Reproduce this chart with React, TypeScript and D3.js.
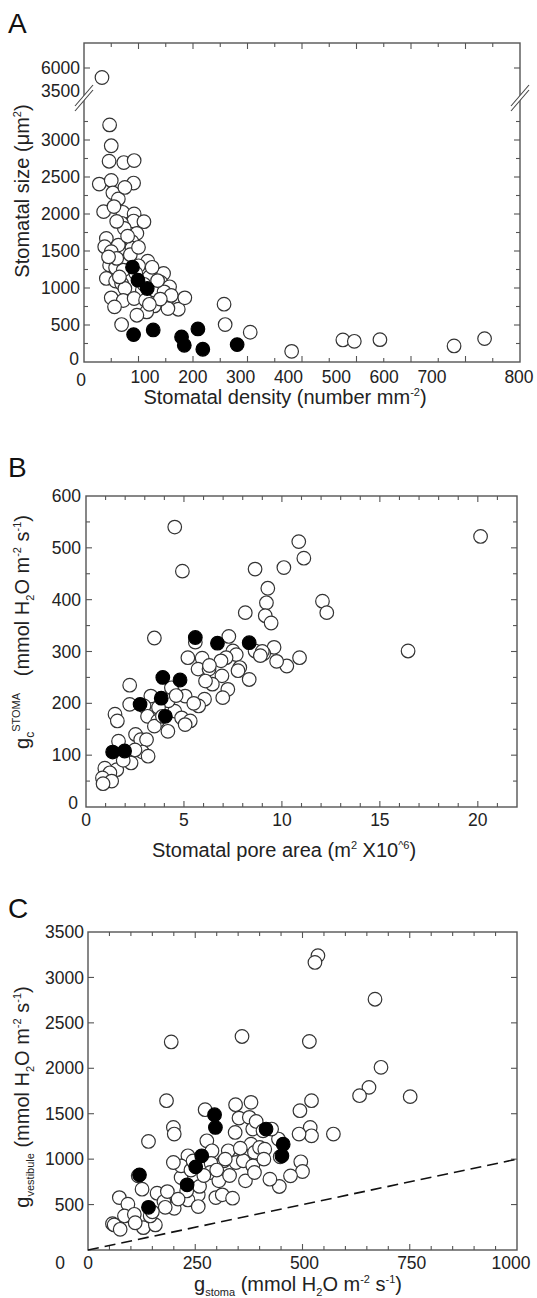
import React from "react";
import * as d3 from "d3";

const FONT = "'Liberation Sans', Arial, Helvetica, sans-serif";

// ---------- Panel A: stomatal density vs stomatal size ----------
const aOpen: [number, number][] = [
  [33, 5050], [47, 3204], [50, 2922], [46, 2713], [73, 2695], [92, 2722], [28, 2404], [50, 2454],
  [91, 2418], [53, 2286], [63, 2204], [75, 2359], [36, 2032], [71, 2023], [92, 2000], [91, 1905],
  [110, 1896], [69, 1874], [74, 1806], [97, 1738], [41, 1670], [38, 1558], [63, 1580], [88, 1625],
  [50, 1490], [88, 1540], [80, 1390], [117, 1363], [47, 1309], [58, 1273], [72, 1242], [129, 1210],
  [146, 1196], [41, 1129], [58, 1093], [69, 1061], [100, 1129], [141, 1075], [157, 1016], [129, 971],
  [147, 948], [75, 993], [107, 971], [50, 867], [72, 831], [92, 858], [113, 835], [151, 822],
  [173, 713], [185, 867], [56, 745], [129, 758], [115, 677], [97, 632], [154, 722], [69, 506],
  [60, 1400], [85, 1450], [100, 1300], [120, 1150], [135, 1100], [95, 1200], [65, 1150], [110, 1050],
  [45, 1420], [160, 900], [140, 850], [120, 780], [80, 1700], [60, 1900], [55, 2100], [100, 1550],
  [125, 1280],
  [257, 781], [259, 506], [305, 402], [381, 144], [475, 298], [496, 280], [543, 302], [679, 217], [735, 316],
];
const aFilled: [number, number][] = [
  [89, 1282], [99, 1106], [116, 993], [91, 370], [127, 433], [179, 339], [184, 226], [209, 447], [218, 172], [281, 235],
];
const aXLabels = [0, 100, 200, 300, 400, 500, 600, 700, 800];
const aYLabelsLow = [500, 1000, 1500, 2000, 2500, 3000];
const aYLabelsHigh = [3500, 6000];

// ---------- Panel B: stomatal pore area vs gc STOMA ----------
const bOpen: [number, number][] = [
  [4.53, 540], [4.92, 455], [8.63, 459], [10.1, 462], [10.86, 512], [11.12, 480], [9.28, 422], [9.21, 394],
  [8.13, 375], [9.15, 369], [9.45, 355], [12.07, 397], [12.29, 375], [20.14, 522],
  [3.49, 326], [5.58, 318], [7.29, 329], [16.44, 301], [10.9, 288], [10.25, 272], [9.73, 281], [9.6, 308],
  [9.07, 296], [8.63, 301], [7.5, 301], [7.67, 294], [7.15, 288], [6.89, 282], [5.93, 287], [5.2, 288],
  [5.72, 266], [6.28, 266], [7.85, 269], [7.76, 263], [6.94, 253], [8.33, 246], [6.45, 237], [6.1, 243],
  [7.24, 227], [6.98, 211], [6.05, 208], [5.75, 195], [5.06, 214], [4.45, 221], [4.36, 230], [3.31, 214],
  [2.23, 235], [2.23, 198], [2.96, 195], [3.14, 175], [3.66, 166], [4.53, 185], [4.88, 172], [5.32, 166],
  [5.06, 159], [3.49, 156], [4.18, 146], [1.48, 179], [1.6, 166], [2.53, 140], [2.79, 130], [3.09, 130],
  [1.66, 127], [2.88, 106], [3.17, 98], [2.09, 95], [2.3, 85], [1.57, 72], [0.96, 75], [1.22, 66],
  [0.84, 56], [1.31, 50], [0.87, 45], [9.0, 300], [8.9, 292], [4.2, 205], [3.7, 192], [5.5, 200],
  [6.3, 273], [4.6, 215], [3.9, 175], [2.5, 110], [1.9, 90],
];
const bFilled: [number, number][] = [
  [5.58, 327], [6.71, 316], [8.33, 317], [3.92, 250], [4.8, 245], [2.76, 198], [3.84, 210], [4.05, 175], [1.36, 106], [1.97, 108],
];
const bXLabels = [0, 5, 10, 15, 20];
const bYLabels = [100, 200, 300, 400, 500, 600];

// ---------- Panel C: g stoma vs g vestibule ----------
const cOpen: [number, number][] = [
  [536, 3240], [529, 3165], [669, 2760], [194, 2290], [359, 2350], [516, 2295],
  [683, 2011], [655, 1790], [633, 1698], [751, 1688], [521, 1643], [494, 1533], [518, 1349], [521, 1257],
  [492, 1276], [572, 1276], [496, 971], [500, 864], [472, 816], [446, 699], [444, 1221], [448, 1026],
  [183, 1643], [199, 1349], [201, 1276], [141, 1195], [117, 816], [126, 669], [73, 577], [93, 504],
  [57, 290], [61, 276], [75, 228], [85, 375], [108, 393], [129, 246], [157, 276], [145, 375],
  [161, 625], [177, 533], [185, 643], [201, 459], [217, 798], [233, 1037], [217, 926], [199, 963],
  [277, 1202], [273, 1544], [289, 1092], [257, 607], [233, 551], [257, 478], [287, 952], [285, 853],
  [305, 761], [298, 577], [313, 607], [317, 982], [337, 570], [327, 1092], [344, 1599], [352, 1452],
  [343, 1294], [345, 963], [362, 982], [367, 761], [380, 1625], [376, 1460], [384, 1331], [380, 1165],
  [392, 1415], [388, 1074], [384, 926], [388, 853], [408, 1312], [400, 1129], [412, 1110], [424, 779],
  [428, 1331], [240, 880], [260, 700], [270, 820], [300, 880], [320, 1000], [230, 650], [210, 560],
  [180, 470], [150, 420], [110, 300], [245, 980], [355, 1120], [330, 820], [410, 1000],
];
const cFilled: [number, number][] = [
  [295, 1489], [297, 1349], [415, 1331], [455, 1165], [452, 1037], [265, 1037], [251, 915], [231, 717], [120, 827], [141, 470],
];
const cXLabels = [0, 250, 500, 750, 1000];
const cYLabels = [500, 1000, 1500, 2000, 2500, 3000, 3500];
const cDiagonal: [number, number][] = [[0, 0], [1000, 1000]];

const R = 6.8;
const TICK_FS = 17.5;
const TITLE_FS = 20;
const FRAME = "#555";

type Tick = { p: number; major: boolean };

function FrameBox({ l, r, t, b, xs, ys }: { l: number; r: number; t: number; b: number; xs: Tick[]; ys: Tick[] }) {
  return (
    <g stroke={FRAME} strokeWidth={1.1} fill="none">
      {xs.map((k, i) => {
        const len = k.major ? 6 : 4;
        return (
          <g key={"x" + i}>
            <line x1={k.p} x2={k.p} y1={b} y2={b - len} />
            <line x1={k.p} x2={k.p} y1={t} y2={t + len} />
          </g>
        );
      })}
      {ys.map((k, i) => {
        const len = k.major ? 6 : 4;
        return (
          <g key={"y" + i}>
            <line x1={l} x2={l + len} y1={k.p} y2={k.p} />
            <line x1={r} x2={r - len} y1={k.p} y2={k.p} />
          </g>
        );
      })}
      <rect x={l} y={t} width={r - l} height={b - t} strokeWidth={1.4} />
    </g>
  );
}

function Dots({ data, x, y, filled }: { data: [number, number][]; x: (v: number) => number; y: (v: number) => number; filled: boolean }) {
  return (
    <g>
      {data.map((d, i) => (
        <circle key={i} cx={x(d[0])} cy={y(d[1])} r={R} fill={filled ? "#000" : "#fff"} stroke={filled ? "#000" : "#333"} strokeWidth={1.2} />
      ))}
    </g>
  );
}

export default function App() {
  // ---- Panel A geometry
  const aL = 84, aR = 520, aT = 43, aB = 362;
  const xA = d3.scaleLinear().domain([0, 800]).range([aL, aR]);
  const xALabel = d3.scaleLinear().domain([0, 100, 700, 800]).range([81, 145, 432, 519]);
  const yALow = d3.scaleLinear().domain([0, 3000]).range([aB, 140]);
  const yAHigh = d3.scaleLinear().domain([3500, 6000]).range([93, 68]);
  const yA = (v: number) => (v >= 3500 ? yAHigh(v) : yALow(v));
  const aXTicks: Tick[] = d3.range(50, 800, 50).map((v) => ({ p: xA(v), major: v % 100 === 0 }));
  const aYTicks: Tick[] = d3.range(250, 3500, 250).map((v) => ({ p: yALow(v), major: v % 500 === 0 })).concat([{ p: yAHigh(6000), major: true }]);

  // ---- Panel B geometry
  const bL = 86, bR = 517, bT = 496, bB = 807;
  const xB = d3.scaleLinear().domain([0, 22]).range([bL, bR]);
  const yB = d3.scaleLinear().domain([0, 600]).range([bB, bT]);
  const bXTicks: Tick[] = d3.range(1, 22, 1).map((v) => ({ p: xB(v), major: v % 5 === 0 }));
  const bYTicks: Tick[] = d3.range(50, 600, 50).map((v) => ({ p: yB(v), major: v % 100 === 0 }));

  // ---- Panel C geometry
  const cL = 88, cR = 517, cT = 932, cB = 1250;
  const xC = d3.scaleLinear().domain([0, 1000]).range([cL, cR]);
  const yC = d3.scaleLinear().domain([0, 3500]).range([cB, cT]);
  const cXTicks: Tick[] = d3.range(50, 1000, 50).map((v) => ({ p: xC(v), major: v % 250 === 0 }));
  const cYTicks: Tick[] = d3.range(500, 3500, 500).map((v) => ({ p: yC(v), major: true }));
  const diag = d3.line<[number, number]>().x((d) => xC(d[0])).y((d) => yC(d[1]))(cDiagonal) || "";

  const tickText = { fontFamily: FONT, fontSize: TICK_FS, fill: "#222" } as const;
  const titleText = { fontFamily: FONT, fontSize: TITLE_FS, fill: "#222" } as const;

  const by = yAHigh(3500);
  const brk = (cx: number) => (
    <g>
      <polygon points={`${cx - 9},${by + 13} ${cx + 9},${by - 8} ${cx + 9},${by - 3} ${cx - 9},${by + 18}`} fill="#fff" stroke="none" />
      <line x1={cx - 9} y1={by + 13} x2={cx + 9} y2={by - 8} stroke="#444" strokeWidth={1.1} />
      <line x1={cx - 9} y1={by + 18} x2={cx + 9} y2={by - 3} stroke="#444" strokeWidth={1.1} />
    </g>
  );

  return (
    <svg width={537} height={1298} style={{ display: "block", position: "absolute", left: 0, top: 0, background: "#fff" }}>
      <rect x={0} y={0} width={537} height={1298} fill="#fff" />

      {/* ================= Panel A ================= */}
      <text x={8} y={33} fontFamily={FONT} fontSize={28} fill="#111">A</text>
      <FrameBox l={aL} r={aR} t={aT} b={aB} xs={aXTicks} ys={aYTicks} />
      {brk(aL)}
      {brk(aR)}
      <Dots data={aOpen} x={xA} y={yA} filled={false} />
      <Dots data={aFilled} x={xA} y={yA} filled />
      {aXLabels.map((v) => (
        <text key={v} x={xALabel(v)} y={v === 0 ? 386 : 383} textAnchor="middle" {...tickText}>{v}</text>
      ))}
      <text x={aL - 5} y={aB + 3} textAnchor="end" {...tickText}>0</text>
      {aYLabelsLow.map((v) => (
        <text key={v} x={aL - 4} y={yALow(v)} dy="0.35em" textAnchor="end" {...tickText}>{v}</text>
      ))}
      {aYLabelsHigh.map((v) => (
        <text key={v} x={aL - 4} y={v === 3500 ? 91 : yAHigh(v)} dy="0.35em" textAnchor="end" {...tickText}>{v}</text>
      ))}
      <text x={285} y={404} textAnchor="middle" {...titleText}>
        Stomatal density (number mm<tspan dy={-8} fontSize={11}>-2</tspan><tspan dy={8}>)</tspan>
      </text>
      <text transform="translate(29,191) rotate(-90)" textAnchor="middle" {...titleText}>
        Stomatal size (μm<tspan dy={-8} fontSize={11}>2</tspan><tspan dy={8}>)</tspan>
      </text>

      {/* ================= Panel B ================= */}
      <text x={8} y={477} fontFamily={FONT} fontSize={28} fill="#111">B</text>
      <FrameBox l={bL} r={bR} t={bT} b={bB} xs={bXTicks} ys={bYTicks} />
      <Dots data={bOpen} x={xB} y={yB} filled={false} />
      <Dots data={bFilled} x={xB} y={yB} filled />
      {bXLabels.map((v) => (
        <text key={v} x={xB(v)} y={826} textAnchor="middle" {...tickText}>{v}</text>
      ))}
      <text x={bL - 8} y={bB + 2} textAnchor="end" {...tickText}>0</text>
      {bYLabels.map((v) => (
        <text key={v} x={bL - 5} y={yB(v)} dy="0.35em" textAnchor="end" {...tickText}>{v}</text>
      ))}
      <text x={284} y={857} textAnchor="middle" {...titleText}>
        Stomatal pore area (m<tspan dy={-8} fontSize={11}>2</tspan><tspan dy={8}> X10</tspan><tspan dy={-8} fontSize={11}>^6</tspan><tspan dy={8}>)</tspan>
      </text>
      <text transform="translate(29,632) rotate(-90)" textAnchor="middle" {...titleText}>
        g<tspan dy={5} fontSize={12}>c</tspan><tspan dy={-14} fontSize={11}>STOMA</tspan><tspan dy={9} xmlSpace="preserve">{"   (mmol H"}</tspan><tspan dy={5} fontSize={11}>2</tspan><tspan dy={-5}>O m</tspan><tspan dy={-8} fontSize={11}>-2</tspan><tspan dy={8}> s</tspan><tspan dy={-8} fontSize={11}>-1</tspan><tspan dy={8}>)</tspan>
      </text>

      {/* ================= Panel C ================= */}
      <text x={8} y={918} fontFamily={FONT} fontSize={28} fill="#111">C</text>
      <FrameBox l={cL} r={cR} t={cT} b={cB} xs={cXTicks} ys={cYTicks} />
      <path d={diag} fill="none" stroke="#111" strokeWidth={1.6} strokeDasharray="11,6" />
      <Dots data={cOpen} x={xC} y={yC} filled={false} />
      <Dots data={cFilled} x={xC} y={yC} filled />
      {cXLabels.map((v) => (
        <text key={v} x={xC(v) + (v === 0 ? 0 : v === 1000 ? -6 : 2)} y={1269} textAnchor="middle" {...tickText}>{v}</text>
      ))}
      <text x={60} y={1269} textAnchor="middle" {...tickText}>0</text>
      {cYLabels.map((v) => (
        <text key={v} x={cL - 4} y={yC(v)} dy="0.35em" textAnchor="end" {...tickText}>{v}</text>
      ))}
      <text x={298} y={1291} textAnchor="middle" {...titleText}>
        g<tspan dy={5} fontSize={11}>stoma</tspan><tspan dy={-5}> (mmol H</tspan><tspan dy={5} fontSize={11}>2</tspan><tspan dy={-5}>O m</tspan><tspan dy={-8} fontSize={11}>-2</tspan><tspan dy={8}> s</tspan><tspan dy={-8} fontSize={11}>-1</tspan><tspan dy={8}>)</tspan>
      </text>
      <text transform="translate(29,1097) rotate(-90)" textAnchor="middle" {...titleText}>
        g<tspan dy={5} fontSize={11}>vestibule</tspan><tspan dy={-5}> (mmol H</tspan><tspan dy={5} fontSize={11}>2</tspan><tspan dy={-5}>O m</tspan><tspan dy={-8} fontSize={11}>-2</tspan><tspan dy={8}> s</tspan><tspan dy={-8} fontSize={11}>-1</tspan><tspan dy={8}>)</tspan>
      </text>
    </svg>
  );
}
